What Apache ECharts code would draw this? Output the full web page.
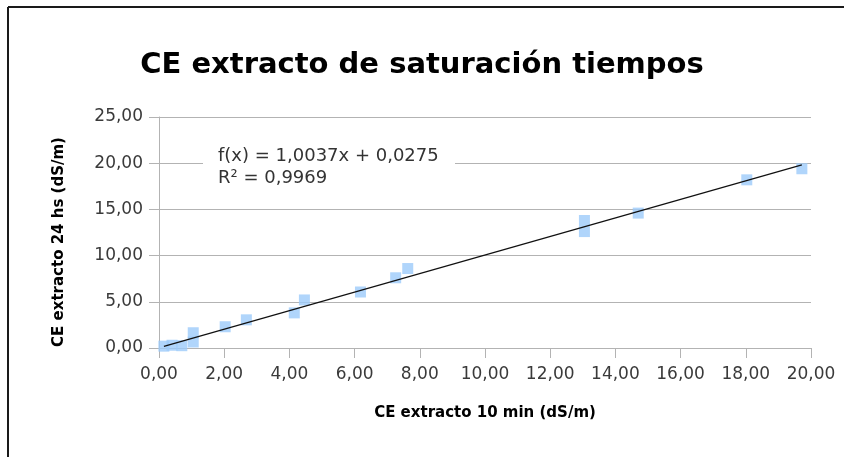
<!DOCTYPE html>
<html><head><meta charset="utf-8">
<script src="https://cdn.jsdelivr.net/npm/echarts@6/dist/echarts.min.js"></script>
<style>html,body{margin:0;padding:0;background:#fff}#c{width:844px;height:457px}</style>
</head><body><div id="c"></div>
<script>
const titleText = 'CE extracto de saturación tiempos';
const xAxisName = 'CE extracto 10 min (dS/m)';
const yAxisName = 'CE extracto 24 hs (dS/m)';
const ce10min = [0.15, 0.40, 0.70, 1.05, 1.05, 2.03, 2.68, 4.15, 4.46, 6.18, 7.26, 7.63, 13.05, 13.05, 14.70, 18.03, 19.72];
const ce24hs  = [0.20, 0.30, 0.25, 0.65, 1.65, 2.30, 3.05, 3.80, 5.20, 6.06, 7.60, 8.60, 12.60, 13.80, 14.60, 18.20, 19.40];
const trendCoef = [1.0037, 0.0275];
const rSquared = 0.9969;

const fmt = (v, d) => v.toFixed(d).replace('.', ',');
const pts = ce10min.map((x, i) => [x, ce24hs[i]]);
const xMin = Math.min(...ce10min), xMax = Math.max(...ce10min);
const trend = [xMin, xMax].map(x => [x, trendCoef[0] * x + trendCoef[1]]);

const chart = echarts.init(document.getElementById('c'), null, {renderer: 'canvas'});
const gray = '#b3b3b3';
const lbl = {color: '#3a3a3a', fontFamily: 'DejaVu Sans', fontSize: 17};
chart.setOption({
  animation: false,
  backgroundColor: '#fff',
  title: {text: titleText, left: 'center', top: 46,
    textStyle: {fontFamily: 'DejaVu Sans', fontWeight: 'bold', fontSize: 29, color: '#000'}},
  grid: {left: 159, right: 33, top: 117, bottom: 109, containLabel: false},
  xAxis: {type: 'value', min: 0, max: 20, interval: 2,
    name: xAxisName, nameLocation: 'middle', nameGap: 58,
    nameTextStyle: {fontFamily: 'DejaVu Sans', fontWeight: 'bold', fontSize: 15, color: '#000'},
    axisLine: {show: true, lineStyle: {color: gray}},
    axisTick: {show: true, length: 10, lineStyle: {color: gray}},
    splitLine: {show: false},
    axisLabel: Object.assign({margin: 18, formatter: v => fmt(v, 2)}, lbl)},
  yAxis: {type: 'value', min: 0, max: 25, interval: 5,
    axisLine: {show: true, lineStyle: {color: gray}},
    axisTick: {show: true, length: 10, lineStyle: {color: gray}},
    splitLine: {show: true, lineStyle: {color: gray}},
    axisLabel: Object.assign({margin: 16, formatter: v => fmt(v, 2)}, lbl)},
  series: [
    {type: 'scatter', data: pts, symbol: 'rect', symbolSize: 11,
      itemStyle: {color: '#9ccbfa'}, z: 3},
    {type: 'line', data: trend, symbol: 'none', z: 4,
      lineStyle: {color: '#111', width: 1.2}}
  ],
  graphic: [
    {type: 'rect', shape: {x: 203, y: 143, width: 252, height: 48}, style: {fill: '#fff'}, z: 1},
    {type: 'text', x: 218, y: 156, z: 2, style: {text: 'f(x) = ' + fmt(trendCoef[0], 4) + 'x + ' + fmt(trendCoef[1], 4),
      fontFamily: 'DejaVu Sans', fontSize: 18, fill: '#333', verticalAlign: 'middle'}},
    {type: 'text', x: 218, y: 178, z: 2, style: {text: 'R² = ' + fmt(rSquared, 4),
      fontFamily: 'DejaVu Sans', fontSize: 18, fill: '#333', verticalAlign: 'middle'}},
    {type: 'text', x: 59, y: 242, rotation: Math.PI / 2, z: 2, style: {text: yAxisName,
      fontFamily: 'DejaVu Sans', fontWeight: 'bold', fontSize: 15, fill: '#000', align: 'center', verticalAlign: 'middle'}},
    {type: 'line', shape: {x1: 8, y1: 7, x2: 844, y2: 7}, style: {stroke: '#1a1a1a', lineWidth: 2}, z: 5},
    {type: 'line', shape: {x1: 8, y1: 7, x2: 8, y2: 457}, style: {stroke: '#1a1a1a', lineWidth: 2}, z: 5}
  ]
});
</script></body></html>
